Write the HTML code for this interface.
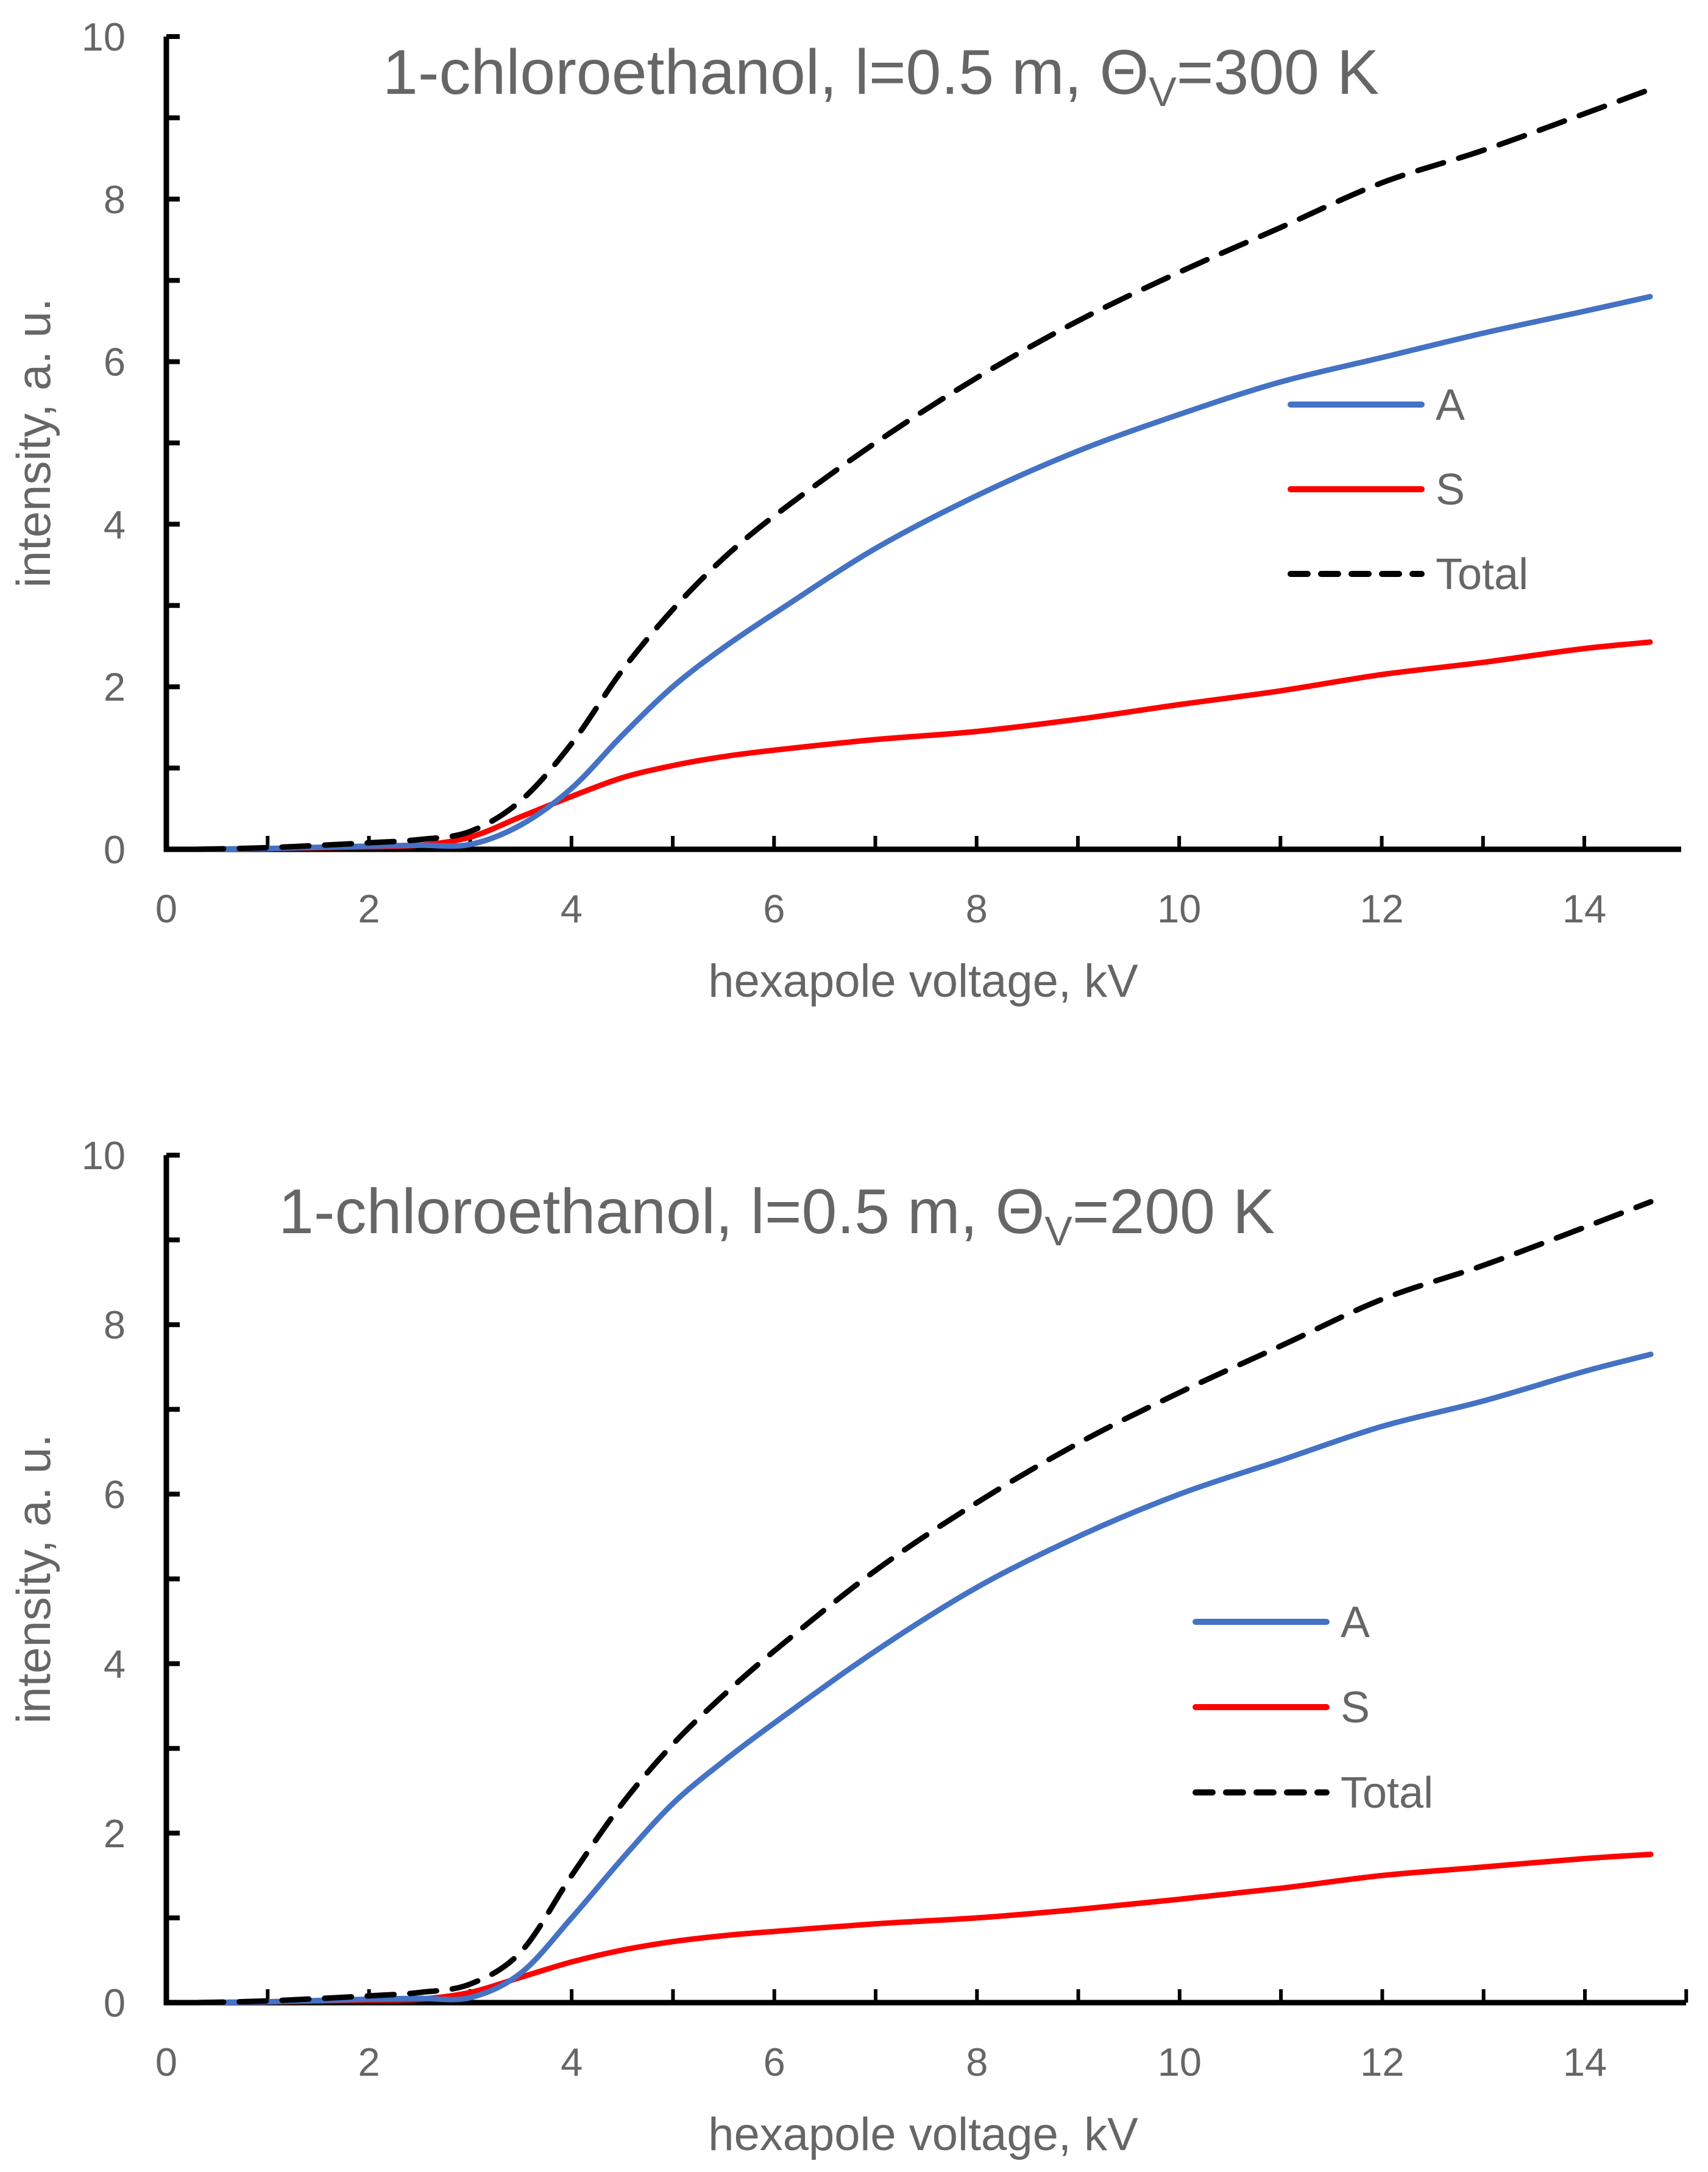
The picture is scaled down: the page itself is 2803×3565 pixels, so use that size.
<!DOCTYPE html>
<html><head><meta charset="utf-8"><style>
html,body{margin:0;padding:0;background:#fff;}
svg{display:block;}
text{font-family:"Liberation Sans",sans-serif;fill:#666;}
</style></head><body>
<svg id="fig" width="2803" height="3565" viewBox="0 0 2803 3565" xmlns="http://www.w3.org/2000/svg"></svg>
<script>
const xTickLabels = [0,2,4,6,8,10,12,14];
const yTickLabels = [0,2,4,6,8,10];
const xs = [0.3,1,2,2.5,3,3.5,4,4.5,5,5.5,6,7,8,9,10,11,12,13,14,14.65];
const topA =     [0,0.01,0.04,0.05,0.06,0.3,0.75,1.4,2.0,2.48,2.9,3.7,4.35,4.9,5.35,5.75,6.05,6.35,6.62,6.8];
const topS =     [0,0.01,0.03,0.05,0.15,0.4,0.65,0.88,1.03,1.14,1.22,1.35,1.45,1.6,1.78,1.95,2.15,2.3,2.47,2.55];
const topTotal = [0,0.02,0.08,0.12,0.22,0.6,1.3,2.2,2.95,3.58,4.1,5.0,5.8,6.5,7.1,7.65,8.2,8.6,9.05,9.35];
const botA =     [0,0.01,0.04,0.05,0.06,0.35,1.0,1.7,2.35,2.85,3.3,4.15,4.9,5.5,6.0,6.4,6.8,7.1,7.45,7.65];
const botS =     [0,0.01,0.03,0.04,0.12,0.3,0.48,0.62,0.72,0.79,0.84,0.93,1.0,1.1,1.22,1.35,1.5,1.6,1.7,1.75];
const botTotal = [0,0.02,0.08,0.12,0.22,0.6,1.5,2.35,3.05,3.63,4.15,5.1,5.9,6.6,7.2,7.75,8.3,8.7,9.15,9.45];

const NS='http://www.w3.org/2000/svg';
const svg=document.getElementById('fig');
function mk(tag,attrs,parent){const e=document.createElementNS(NS,tag);for(const k in attrs)e.setAttribute(k,attrs[k]);(parent||svg).appendChild(e);return e;}

function smoothPath(pts){
  const n=pts.length;
  const m=pts.map((p,i)=>{
    const a=pts[Math.max(0,i-1)],b=pts[Math.min(n-1,i+1)];
    return (b[1]-a[1])/(b[0]-a[0]);
  });
  let d='M'+pts[0][0].toFixed(1)+','+pts[0][1].toFixed(1);
  for(let i=0;i<n-1;i++){
    const p1=pts[i],p2=pts[i+1],h=(p2[0]-p1[0])/3;
    d+=' C'+(p1[0]+h).toFixed(1)+','+(p1[1]+m[i]*h).toFixed(1)+' '+(p2[0]-h).toFixed(1)+','+(p2[1]-m[i+1]*h).toFixed(1)+' '+p2[0].toFixed(1)+','+p2[1].toFixed(1);
  }
  return d;
}

function chart(cfg){
  const g=mk('g',{});
  
  
  const X=v=>cfg.x0+v*(cfg.x14-cfg.x0)/14;
  const Y=v=>cfg.y0-v*(cfg.y0-cfg.y10)/10;
  const ya=mk('line',{x1:X(0),y1:cfg.y0+4,x2:X(0),y2:Y(10),stroke:'#000','stroke-width':9},g);
  
  const xa=mk('line',{x1:X(0)-4,y1:cfg.y0,x2:cfg.xEnd,y2:cfg.y0,stroke:'#000','stroke-width':9},g);
  
  for(let v=1;v<=10;v++){
    const t=mk('line',{x1:X(0),y1:Y(v),x2:X(0)+22,y2:Y(v),stroke:'#000','stroke-width':8},g);
    
  }
  for(let v=1;X(v)<=cfg.xEnd+2;v++){
    const t=mk('line',{x1:X(v),y1:cfg.y0,x2:X(v),y2:cfg.y0-22,stroke:'#000','stroke-width':6},g);
    
  }
  yTickLabels.forEach(v=>{
    const t=mk('text',{x:206,y:Y(v)+23,'text-anchor':'end','font-size':65},g);
    t.textContent=v;
    
  });
  xTickLabels.forEach(v=>{
    const t=mk('text',{x:X(v),y:cfg.y0+120,'text-anchor':'middle','font-size':65},g);
    t.textContent=v;
    
  });
  const xt=mk('text',{x:1515,y:cfg.y0+242,'text-anchor':'middle','font-size':76},g);
  xt.textContent='hexapole voltage, kV';
  
  const yc=(cfg.y0+cfg.y10)/2;
  const yt=mk('text',{x:0,y:0,'text-anchor':'middle','font-size':78,transform:'translate(82,'+yc+') rotate(-90)'},g);
  yt.textContent='intensity, a. u.';
  
  const ti=mk('text',{x:cfg.titleX,y:cfg.titleY,'font-size':104},g);
  
  ti.innerHTML='1-chloroethanol, l=0.5 m, Θ<tspan font-size="68" dy="20">V</tspan><tspan dy="-20">='+cfg.temp+' K</tspan>';
  const series=[
    {vals:cfg.S,color:'#FF0000',dash:null,name:'series-s'},
    {vals:cfg.A,color:'#4472C4',dash:null,name:'series-a'},
    {vals:cfg.T,color:'#000',dash:'44 26',name:'series-total'}
  ];
  series.forEach(s=>{
    const pts=xs.map((x,i)=>[X(x),Y(s.vals[i])]);
    const p=mk('path',{d:smoothPath(pts),fill:'none',stroke:s.color,'stroke-width':9,'stroke-linecap':'round'},g);
    if(s.dash)p.setAttribute('stroke-dasharray',s.dash);
    
  });
  const leg=[['A','#4472C4',null],['S','#FF0000',null],['Total','#000','28 22']];
  leg.forEach((l,i)=>{
    const y=cfg.legY+i*cfg.legGap;
    const ln=mk('line',{x1:cfg.legX,y1:y,x2:cfg.legX+215,y2:y,stroke:l[1],'stroke-width':10,'stroke-linecap':'round'},g);
    if(l[2])ln.setAttribute('stroke-dasharray',l[2]);
    
    const t=mk('text',{x:cfg.legX+238,y:y+25,'font-size':72},g);
    t.textContent=l[0];
    
  });
}

chart({name:'chart-300k',x0:273,x14:2600,xEnd:2759,y0:1394,y10:60,temp:300,titleX:628,titleY:154,
  A:topA,S:topS,T:topTotal,legX:2118,legY:664,legGap:139});
chart({name:'chart-200k',x0:273,x14:2601,xEnd:2767,y0:3287,y10:1896,temp:200,titleX:457,titleY:2024,
  A:botA,S:botS,T:botTotal,legX:1962,legY:2662,legGap:140});
</script>
</body></html>
